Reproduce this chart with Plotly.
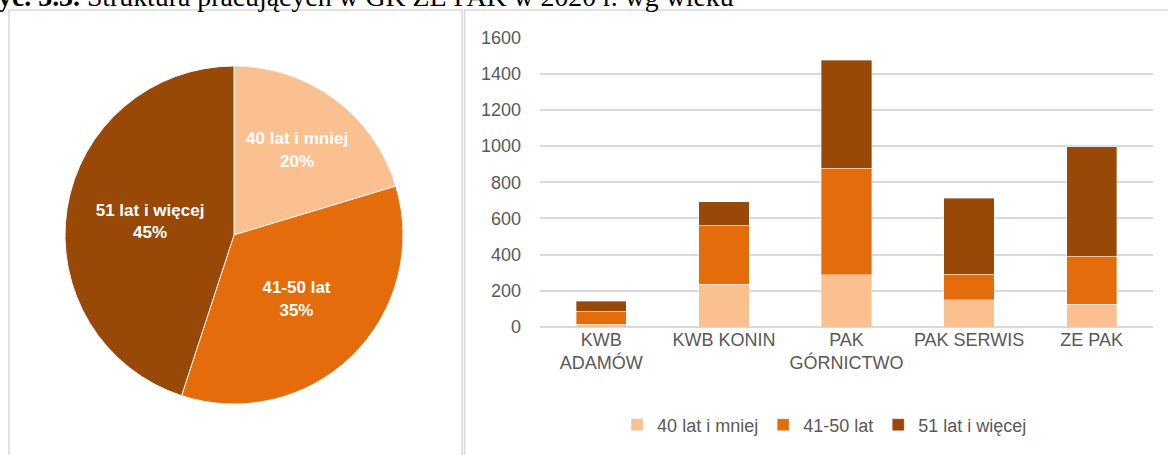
import plotly.graph_objects as go

W, H = 1168, 455

categories = ["KWB<br>ADAMÓW", "KWB KONIN", "PAK<br>GÓRNICTWO", "PAK SERWIS", "ZE PAK"]
series_names = ["40 lat i mniej", "41-50 lat", "51 lat i więcej"]
age_40_less = [15, 236, 289, 151, 125]
age_41_50 = [72, 326, 588, 140, 266]
age_51_more = [55, 129, 597, 420, 604]
colors = ["#FAC090", "#E46C0A", "#984807"]
y_ticks = [0, 200, 400, 600, 800, 1000, 1200, 1400, 1600]
title_bold = "Ryc. 3.3."
title_rest = "Struktura pracujących w GK ZE PAK w 2020 r. wg wieku"

series_values = [age_40_less, age_41_50, age_51_more]
pie_values = [sum(v) for v in series_values]

SANS = "Liberation Sans Narrow, Arial Narrow, Liberation Sans, Arial, sans-serif"
GRAY = "#595959"
GRID = "#D9D9D9"

def px_x(p):
    return p / W

def px_y(p):
    return 1 - p / H

fig = go.Figure()

fig.add_trace(go.Pie(
    labels=series_names,
    values=pie_values,
    marker=dict(colors=colors, line=dict(color="#F2F2F2", width=1)),
    direction="clockwise",
    rotation=0,
    sort=False,
    texttemplate="%{label}<br>%{percent:.0%}",
    textposition="inside",
    insidetextorientation="horizontal",
    textfont=dict(family=SANS, size=17, color="white", weight="bold"),
    domain=dict(x=[px_x(65), px_x(403)], y=[px_y(404), px_y(66)]),
    showlegend=False,
    hoverinfo="label+value+percent",
))

for name, vals, col in zip(series_names, series_values, colors):
    fig.add_trace(go.Bar(
        x=categories,
        y=vals,
        name=name,
        marker=dict(color=col, line=dict(color="rgba(255,255,255,0.6)", width=0.6)),
        xaxis="x",
        yaxis="y",
    ))

fig.update_layout(
    width=W,
    height=H,
    margin=dict(l=0, r=0, t=0, b=0, autoexpand=False),
    paper_bgcolor="white",
    plot_bgcolor="white",
    barmode="stack",
    bargap=0.59,
    font=dict(family=SANS, size=18, color=GRAY),
    xaxis=dict(
        domain=[px_x(540), px_x(1153)],
        anchor="y",
        automargin=False,
        showgrid=False,
        showline=False,
        ticks="",
        tickfont=dict(family=SANS, size=18, color=GRAY),
        tickangle=0,
    ),
    yaxis=dict(
        domain=[px_y(327), px_y(37.5)],
        anchor="x",
        automargin=False,
        range=[0, 1600],
        tickvals=y_ticks,
        showgrid=True,
        gridcolor=GRID,
        gridwidth=1.5,
        zeroline=True,
        zerolinecolor=GRID,
        zerolinewidth=1.5,
        showline=False,
        ticks="",
        ticklabelstandoff=18,
        tickfont=dict(family=SANS, size=18, color=GRAY),
    ),
    legend=dict(
        orientation="h",
        x=0.706,
        xanchor="center",
        y=px_y(425),
        yanchor="middle",
        font=dict(family=SANS, size=18, color=GRAY),
        itemwidth=30,
        traceorder="normal",
        bgcolor="rgba(0,0,0,0)",
    ),
    shapes=[
        dict(type="rect", xref="paper", yref="paper",
             x0=px_x(9), x1=px_x(462), y0=px_y(470), y1=px_y(10),
             line=dict(color=GRID, width=1.5), fillcolor="rgba(0,0,0,0)", layer="below"),
        dict(type="rect", xref="paper", yref="paper",
             x0=px_x(464.5), x1=px_x(1180), y0=px_y(470), y1=px_y(10),
             line=dict(color=GRID, width=1.5), fillcolor="rgba(0,0,0,0)", layer="below"),
    ],
    annotations=[
        dict(
            text=f"<b>{title_bold}</b> {title_rest}",
            xref="paper", yref="paper",
            x=px_x(736), xanchor="right",
            y=px_y(14), yanchor="bottom",
            showarrow=False,
            font=dict(family="Liberation Serif, DejaVu Serif, serif", size=27.8, color="black"),
        )
    ],
)

post = (
    "document.body.style.margin='0';"
    "document.body.style.padding='0';"
    "document.body.style.overflow='hidden';"
    "document.documentElement.style.overflow='hidden';"
)
fig.write_html("out.html", post_script=post, config={"displayModeBar": False})
